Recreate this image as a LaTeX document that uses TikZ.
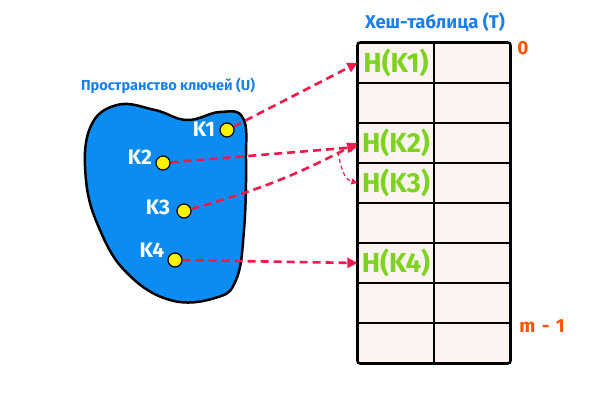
\documentclass[tikz,border=0pt]{standalone}
\usepackage{fontspec}
\setmainfont{Fira Sans}
\usetikzlibrary{arrows.meta, positioning}
\definecolor{blobBlue}{HTML}{0A8CF2}
\definecolor{titleBlue}{HTML}{1A7FE8}
\definecolor{hashGreen}{HTML}{7ED321}
\definecolor{indexOrange}{HTML}{FF5500}
\definecolor{arrowRed}{HTML}{F2194D}
\definecolor{cellFill}{HTML}{FDF4F1}
\definecolor{dotYellow}{HTML}{FFF200}

\tikzset{
  keydot/.style={circle, draw=black, line width=1.2pt, fill=dotYellow, minimum size=14pt, inner sep=0pt},
  keylbl/.style={text=white, font=\bfseries\fontsize{21}{21}\selectfont},
  cell/.style={draw=black, line width=1.2pt, fill=cellFill, minimum width=76pt, minimum height=40pt, inner sep=0pt},
  hashlbl/.style={text=hashGreen, font=\bfseries\fontsize{27.5}{27.5}\selectfont},
  idxlbl/.style={text=indexOrange, font=\bfseries\fontsize{19}{19}\selectfont},
  hasharrow/.style={draw=arrowRed, line width=2.6pt, dash pattern=on 8pt off 5pt, -{Triangle[length=10pt,width=10pt]}},
  probearrow/.style={draw=arrowRed, line width=1.2pt, dash pattern=on 4pt off 3pt, -{Triangle[length=6pt,width=6pt]}}
}

\begin{document}
\begin{tikzpicture}[x=1pt, y=-1pt]
\useasboundingbox (0,0) rectangle (600,400);
% key space
\draw[line width=2.5pt, fill=blobBlue] plot[smooth cycle, tension=0.7] coordinates {(117,105) (155,110) (187,120) (220,112) (243,118) (246,160) (244,230) (236,280) (215,298) (170,300) (127,273) (100,230) (86,180) (90,128)};
\node[text=titleBlue, font=\bfseries\fontsize{14.5}{14.5}\selectfont] (utitle) at (168,86) {Пространство ключей (U)};
\node[keydot] (k1) at (227,130) {};
\node[keydot] (k2) at (163,163) {};
\node[keydot] (k3) at (184,211) {};
\node[keydot] (k4) at (175,260) {};
\node[keylbl] (k1lbl) at (204,129) {K1};
\node[keylbl] (k2lbl) at (140,157) {K2};
\node[keylbl] (k3lbl) at (158,207) {K3};
\node[keylbl] (k4lbl) at (152,250) {K4};
% hash table
\foreach \r in {0,...,7} {
  \node[cell] (a\r) at (396,63+40*\r) {};
  \node[cell] (b\r) at (472,63+40*\r) {};
}
\draw[line width=2.5pt, rounded corners=3pt] (a0.north west) rectangle (b7.south east);
\node[text=titleBlue, font=\bfseries\fontsize{18.5}{18.5}\selectfont] (ttitle) at (435,22) {Хеш-таблица (T)};
\node[idxlbl] (first) at (523,48) {0};
\node[idxlbl] (last) at (542,326) {m\,\,-\,\,1};
\node[hashlbl] (h1) at (a0) {H(K1)};
\node[hashlbl] (h2) at (a2) {H(K2)};
\node[hashlbl] (h3) at (a3) {H(K3)};
\node[hashlbl] (h4) at (a5) {H(K4)};
% mapping
\draw[hasharrow] (k1) -- (a0.west);
\draw[hasharrow] (k2) -- ([yshift=-4pt]a2.west);
\draw[hasharrow] (k3) to[bend right=6] ([yshift=0pt]a2.west);
\draw[hasharrow] (k4) -- (a5.west);
\coordinate (probe) at (338,152);
\draw[probearrow] (probe) to[out=-80, in=165] (a3.west);
\end{tikzpicture}
\end{document}
